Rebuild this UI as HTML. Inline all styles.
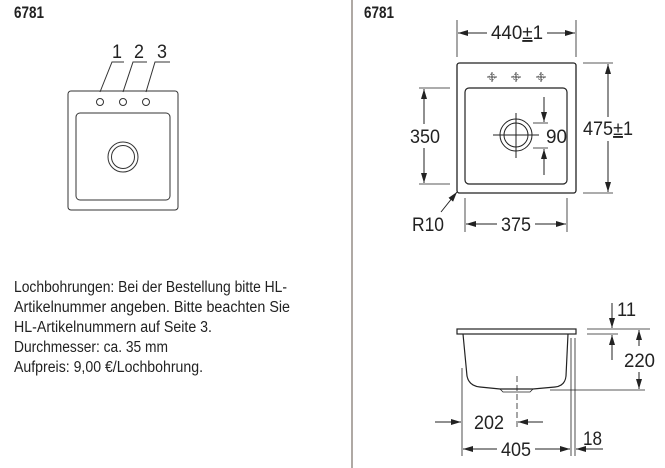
<!DOCTYPE html>
<html><head><meta charset="utf-8"><style>
html,body{margin:0;padding:0;background:#fff;}
svg{display:block;font-family:"Liberation Sans",sans-serif;}
</style></head><body>
<svg width="665" height="468" viewBox="0 0 665 468" xmlns="http://www.w3.org/2000/svg">
<defs>
<marker id="a" viewBox="0 0 10 6" refX="10" refY="3" markerWidth="10" markerHeight="6" orient="auto" markerUnits="userSpaceOnUse"><path d="M0,0 L10,3 L0,6 z" fill="#222"/></marker>
</defs>
<line x1="352" y1="0" x2="352" y2="468" stroke="#7a7068" stroke-width="1.2"/>
<text x="14" y="18" font-size="17" font-weight="bold" fill="#222" textLength="30" lengthAdjust="spacingAndGlyphs">6781</text>
<text x="364" y="18" font-size="17" font-weight="bold" fill="#222" textLength="30" lengthAdjust="spacingAndGlyphs">6781</text>

<g fill="none" stroke="#333" stroke-width="1">
<rect x="68" y="91" width="110" height="119" rx="3"/>
<rect x="76" y="113" width="94" height="87" rx="4"/>
<circle cx="123" cy="157" r="15"/>
<circle cx="123" cy="157" r="11.5"/>
<circle cx="100" cy="102" r="3.5"/>
<circle cx="123" cy="102" r="3.5"/>
<circle cx="146" cy="102" r="3.5"/>
<polyline points="100,92 112,62 124,62"/>
<polyline points="123,92 133,62 147,62"/>
<polyline points="146,92 155,62 170,62"/>
</g>
<g font-size="19" fill="#222">
<text x="112" y="58" textLength="10" lengthAdjust="spacingAndGlyphs">1</text><text x="134" y="58" textLength="10" lengthAdjust="spacingAndGlyphs">2</text><text x="157" y="58" textLength="10" lengthAdjust="spacingAndGlyphs">3</text>
</g>

<g font-size="15.5" fill="#222">
<text x="14" y="292" textLength="273" lengthAdjust="spacingAndGlyphs">Lochbohrungen: Bei der Bestellung bitte HL-</text>
<text x="14" y="312" textLength="276" lengthAdjust="spacingAndGlyphs">Artikelnummer angeben. Bitte beachten Sie</text>
<text x="14" y="332" textLength="198" lengthAdjust="spacingAndGlyphs">HL-Artikelnummern auf Seite 3.</text>
<text x="14" y="352" textLength="154" lengthAdjust="spacingAndGlyphs">Durchmesser: ca. 35 mm</text>
<text x="14" y="372" textLength="189" lengthAdjust="spacingAndGlyphs">Aufpreis: 9,00 €/Lochbohrung.</text>
</g>

<g fill="none" stroke="#222" stroke-width="1">
<rect x="457" y="63" width="119" height="130" rx="2.5" stroke-width="1.3"/>
<rect x="465" y="88" width="102" height="96" rx="4" stroke-width="1.2"/>
<circle cx="516" cy="135" r="16"/>
<circle cx="516" cy="135" r="12"/>
<line x1="493" y1="135" x2="539" y2="135"/>
<line x1="516" y1="113" x2="516" y2="158"/>
<g stroke-width="0.8">
<path d="M487,77h10M492,72v10"/>
<path d="M511,77h10M516,72v10"/>
<path d="M536,77h10M541,72v10"/>
</g>
<g stroke-width="0.7" stroke-dasharray="1.5,1.5">
<circle cx="492" cy="77" r="3"/><circle cx="516" cy="77" r="3"/><circle cx="541" cy="77" r="3"/>
</g>
<line x1="457" y1="20" x2="457" y2="57" stroke-width="0.8"/>
<line x1="576" y1="20" x2="576" y2="57" stroke-width="0.8"/>
<line x1="487" y1="33" x2="458" y2="33" marker-end="url(#a)"/>
<line x1="547" y1="33" x2="575" y2="33" marker-end="url(#a)"/>
<line x1="419" y1="88" x2="450" y2="88" stroke-width="0.8"/>
<line x1="419" y1="184" x2="450" y2="184" stroke-width="0.8"/>
<line x1="424" y1="124" x2="424" y2="89" marker-end="url(#a)"/>
<line x1="424" y1="148" x2="424" y2="183" marker-end="url(#a)"/>
<line x1="583" y1="63" x2="613" y2="63" stroke-width="0.8"/>
<line x1="583" y1="193" x2="613" y2="193" stroke-width="0.8"/>
<line x1="608" y1="117" x2="608" y2="64" marker-end="url(#a)"/>
<line x1="608" y1="141" x2="608" y2="192" marker-end="url(#a)"/>
<line x1="533" y1="123" x2="548" y2="123" stroke-width="0.8"/>
<line x1="533" y1="148" x2="548" y2="148" stroke-width="0.8"/>
<line x1="544" y1="97" x2="544" y2="122" marker-end="url(#a)"/>
<line x1="544" y1="175" x2="544" y2="149" marker-end="url(#a)"/>
<line x1="441" y1="212" x2="457" y2="192" marker-end="url(#a)"/>
<line x1="465" y1="198" x2="465" y2="232" stroke-width="0.8"/>
<line x1="567" y1="198" x2="567" y2="232" stroke-width="0.8"/>
<line x1="497" y1="224" x2="466" y2="224" marker-end="url(#a)"/>
<line x1="535" y1="224" x2="566" y2="224" marker-end="url(#a)"/>
</g>
<g font-size="19" fill="#222">
<text x="491" y="39" textLength="52" lengthAdjust="spacingAndGlyphs">440<tspan text-decoration="underline">±</tspan>1</text>
<text x="410" y="143" textLength="30" lengthAdjust="spacingAndGlyphs">350</text>
<text x="546" y="143" textLength="21" lengthAdjust="spacingAndGlyphs">90</text>
<text x="583" y="135" textLength="50" lengthAdjust="spacingAndGlyphs">475<tspan text-decoration="underline">±</tspan>1</text>
<text x="412" y="231" textLength="32" lengthAdjust="spacingAndGlyphs">R10</text>
<text x="501" y="231" textLength="30" lengthAdjust="spacingAndGlyphs">375</text>
</g>

<g fill="none" stroke="#222" stroke-width="1">
<rect x="457" y="329" width="119" height="5" stroke-width="1.2"/>
<path d="M463,334 L467,376 Q469,386 480,387 L500,389 L533,389 L555,387 Q565,386 566,376 L568,334" stroke-width="1.2"/>
<path d="M500,389 L503,392 L530,392 L533,389" stroke-width="0.8"/>
<line x1="517" y1="376" x2="517" y2="428" stroke-dasharray="6,3" stroke-width="0.8"/>
<line x1="462" y1="368" x2="462" y2="456" stroke-width="0.8"/>
<line x1="571" y1="338" x2="571" y2="456" stroke-width="0.8"/>
<line x1="575" y1="338" x2="575" y2="456" stroke-width="0.8"/>
<line x1="550" y1="390" x2="645" y2="390" stroke-width="0.8"/>
<line x1="587" y1="329" x2="650" y2="329" stroke-width="0.8"/>
<line x1="587" y1="334" x2="618" y2="334" stroke-width="0.8"/>
<line x1="435" y1="422" x2="461" y2="422" marker-end="url(#a)"/>
<line x1="543" y1="422" x2="518" y2="422" marker-end="url(#a)"/>
<line x1="497" y1="449" x2="463" y2="449" marker-end="url(#a)"/>
<line x1="535" y1="449" x2="570" y2="449" marker-end="url(#a)"/>
<line x1="603" y1="449" x2="576" y2="449" marker-end="url(#a)"/>
<line x1="612" y1="303" x2="612" y2="328" marker-end="url(#a)"/>
<line x1="612" y1="360" x2="612" y2="335" marker-end="url(#a)"/>
<line x1="639" y1="346" x2="639" y2="330" marker-end="url(#a)"/>
<line x1="639" y1="372" x2="639" y2="389" marker-end="url(#a)"/>
</g>
<g font-size="19" fill="#222">
<text x="617" y="316" textLength="19" lengthAdjust="spacingAndGlyphs">11</text>
<text x="624" y="367" textLength="31" lengthAdjust="spacingAndGlyphs">220</text>
<text x="474" y="429" textLength="30" lengthAdjust="spacingAndGlyphs">202</text>
<text x="501" y="456" textLength="30" lengthAdjust="spacingAndGlyphs">405</text>
<text x="583" y="445" textLength="19" lengthAdjust="spacingAndGlyphs">18</text>
</g>
</svg>
</body></html>
